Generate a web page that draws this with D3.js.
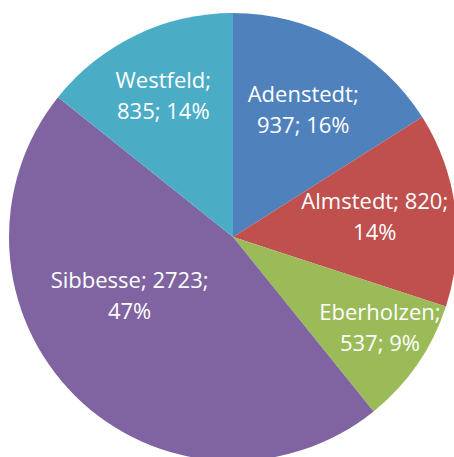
<!DOCTYPE html>
<html>
<head>
<meta charset="utf-8">
<script src="https://cdn.jsdelivr.net/npm/d3@7"></script>
<style>
  body { margin: 0; background: #fff; }
  svg { display: block; }
  .lbl { font-family: "Open Sans", sans-serif; font-size: 22px; fill: #fff; }
</style>
</head>
<body>
<svg id="chart" width="454" height="457"></svg>
<script>
  // data
  var places = ["Adenstedt", "Almstedt", "Eberholzen", "Sibbesse", "Westfeld"];
  var counts = [937, 820, 537, 2723, 835];
  var colors = ["#4f81bd", "#c0504d", "#9bbb59", "#8064a2", "#4bacc6"];

  // label layout: parts on first line, angle nudge (deg), radius fraction
  var firstLineParts = [1, 2, 1, 2, 1];
  var labelNudge = [0, -1.4, -3.0, 15.7, -0.5];
  var labelRad = [0.65, 0.64, 0.77, 0.53, 0.705];

  var width = 454, height = 457;
  var cx = 233, cy = 237, radius = 224;
  var total = d3.sum(counts);

  var svg = d3.select("#chart");
  var g = svg.append("g").attr("transform", "translate(" + cx + "," + cy + ")");

  var pie = d3.pie().sort(null).value(function(d){ return d; });
  var arcs = pie(counts);
  var arc = d3.arc().innerRadius(0).outerRadius(radius);

  g.selectAll("path.slice")
    .data(arcs)
    .enter()
    .append("path")
    .attr("class", "slice")
    .attr("d", arc)
    .attr("fill", function(d, i){ return colors[i]; });

  var lineH = 31;
  var lbl = g.selectAll("text.lbl")
    .data(arcs)
    .enter()
    .append("text")
    .attr("class", "lbl")
    .attr("text-anchor", "middle")
    .attr("transform", function(d, i){
      var a = (d.startAngle + d.endAngle) / 2 + labelNudge[i] * Math.PI / 180;
      var r = radius * labelRad[i];
      return "translate(" + (r * Math.sin(a)) + "," + (-r * Math.cos(a)) + ")";
    });

  lbl.each(function(d, i){
    var pct = Math.round(d.value / total * 100) + "%";
    var parts = [places[i] + ";", d.value + ";", pct];
    var l1 = parts.slice(0, firstLineParts[i]).join(" ");
    var l2 = parts.slice(firstLineParts[i]).join(" ");
    var t = d3.select(this);
    t.append("tspan").attr("x", 0).attr("y", -7).text(l1);
    t.append("tspan").attr("x", 0).attr("y", -7 + lineH).text(l2);
  });
</script>
</body>
</html>
